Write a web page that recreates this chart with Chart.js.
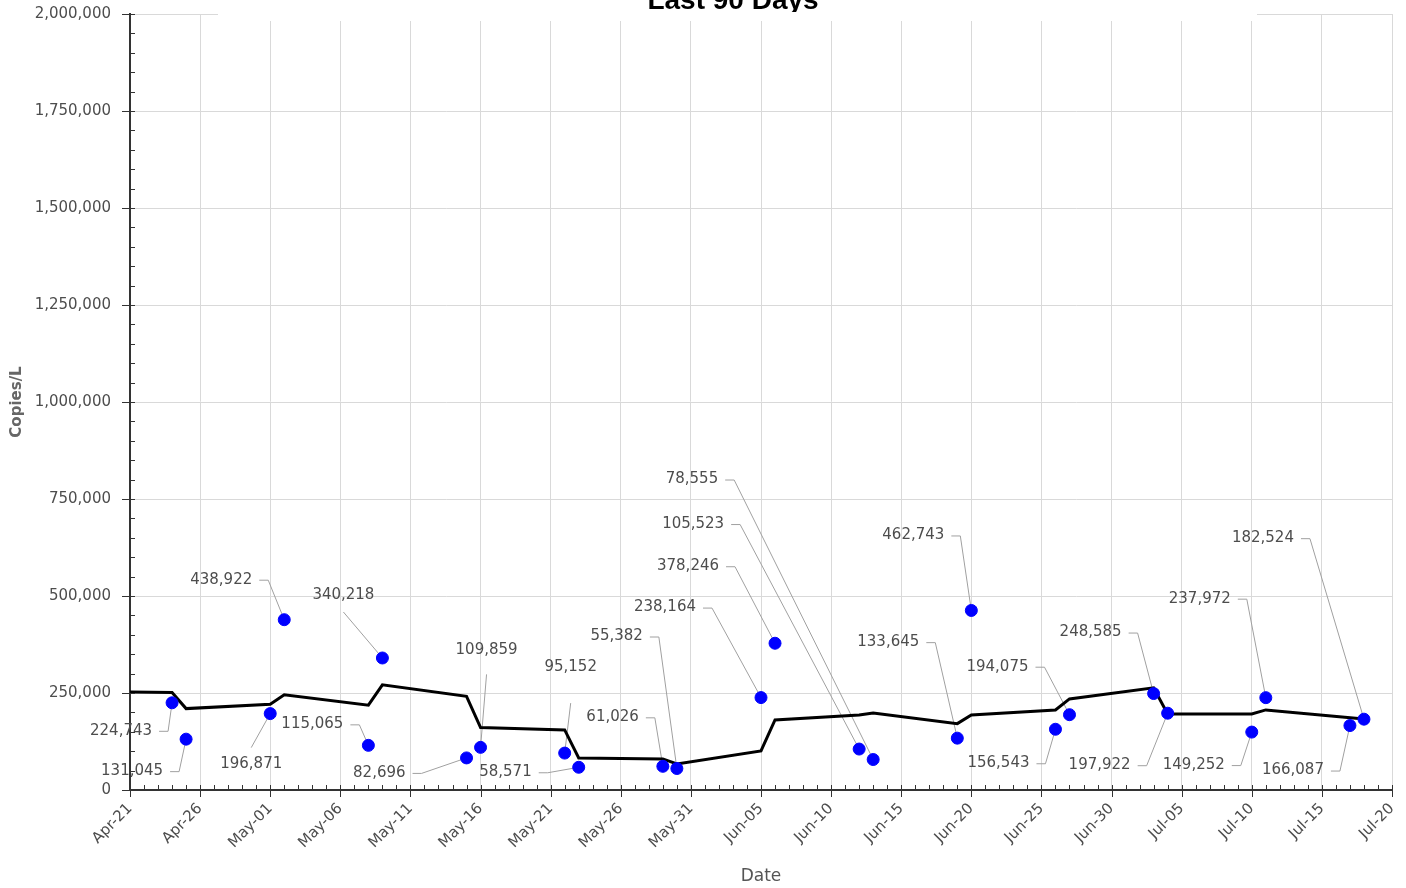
<!DOCTYPE html>
<html>
<head>
<meta charset="utf-8">
<script src="https://cdn.jsdelivr.net/npm/chart.js@4/dist/chart.umd.min.js"></script>
<style>
  html, body { margin: 0; padding: 0; background: #fff; }
  #wrap { width: 1406px; height: 888px; position: relative; }
</style>
</head>
<body>
<div id="wrap"><canvas id="wwChart"></canvas></div>
<script>
// data
const startDate = '2023-04-21';
const xTickLabels = ['Apr-21', 'Apr-26', 'May-01', 'May-06', 'May-11', 'May-16', 'May-21', 'May-26',
  'May-31', 'Jun-05', 'Jun-10', 'Jun-15', 'Jun-20', 'Jun-25', 'Jun-30', 'Jul-05', 'Jul-10', 'Jul-15', 'Jul-20'];

const sampleDates = ['2023-04-24', '2023-04-25', '2023-05-01', '2023-05-02', '2023-05-08', '2023-05-09',
  '2023-05-15', '2023-05-16', '2023-05-22', '2023-05-23', '2023-05-29', '2023-05-30', '2023-06-05',
  '2023-06-06', '2023-06-12', '2023-06-13', '2023-06-19', '2023-06-20', '2023-06-26', '2023-06-27',
  '2023-07-03', '2023-07-04', '2023-07-10', '2023-07-11', '2023-07-17', '2023-07-18'];
const copiesPerL = [224743, 131045, 196871, 438922, 115065, 340218, 82696, 109859, 95152, 58571,
  61026, 55382, 238164, 378246, 105523, 78555, 133645, 462743, 156543, 194075, 248585, 197922,
  149252, 237972, 166087, 182524];

const trendDates = ['2023-04-21', '2023-04-24', '2023-04-25', '2023-05-01', '2023-05-02', '2023-05-08',
  '2023-05-09', '2023-05-15', '2023-05-16', '2023-05-22', '2023-05-23', '2023-05-29', '2023-05-30',
  '2023-06-05', '2023-06-06', '2023-06-12', '2023-06-13', '2023-06-19', '2023-06-20', '2023-06-26',
  '2023-06-27', '2023-07-03', '2023-07-04', '2023-07-10', '2023-07-11', '2023-07-18'];
const trendValues = [252900, 251100, 209800, 221200, 245200, 218600, 271000, 241300, 160800, 154800,
  82600, 80000, 67100, 100600, 180600, 193500, 198700, 171100, 193500, 206400, 234800, 263200,
  196100, 196100, 206400, 183200];

// label placement (pixel offsets from each point): [dx, dy, align, leader start]
const labelLayout = [
  [-20, 28, 'r'], [-23, 32, 'r'], [-19, 50, 'c', -16], [-32, -40, 'r'], [-25, -21, 'r'],
  [-39, -63, 'c', 17], [-61, 15, 'r'], [6, -97, 'c', 24], [6, -86, 'c', 36], [-47, 5, 'r'],
  [-24, -49, 'r'], [-34, -132, 'r'], [-65, -90, 'r'], [-56, -77, 'r'], [-135, -225, 'r'],
  [-155, -280, 'r'], [-38, -96, 'r'], [-27, -75, 'r'], [-26, 34, 'r'], [-41, -48, 'r'],
  [-32, -61, 'r'], [-37, 52, 'r'], [-27, 33, 'r'], [-35, -99, 'r'], [-26, 45, 'r'], [-70, -181, 'r']
];

const FONT = '"DejaVu Sans", sans-serif';

function dayIndex(s) {
  return (Date.parse(s) - Date.parse(startDate)) / 86400000;
}

const pointData = sampleDates.map((d, i) => ({ x: dayIndex(d), y: copiesPerL[i] }));
const trendData = trendDates.map((d, i) => ({ x: dayIndex(d), y: trendValues[i] }));

// leader lines + value labels
const calloutPlugin = {
  id: 'callouts',
  beforeDatasetsDraw(chart) {
    const ctx = chart.ctx;
    const meta = chart.getDatasetMeta(0);
    ctx.save();
    ctx.strokeStyle = '#a0a0a0';
    ctx.lineWidth = 1;
    meta.data.forEach((pt, i) => {
      const l = labelLayout[i];
      const tx = pt.x + l[0], ty = pt.y + l[1];
      ctx.beginPath();
      if (l[2] === 'r') {
        ctx.moveTo(tx + 7, ty + 0.5);
        ctx.lineTo(tx + 16, ty + 0.5);
      } else {
        ctx.moveTo(tx, ty + l[3]);
      }
      ctx.lineTo(pt.x, pt.y);
      ctx.stroke();
    });
    ctx.restore();
  },
  afterDatasetsDraw(chart) {
    const ctx = chart.ctx;
    const meta = chart.getDatasetMeta(0);
    ctx.save();
    ctx.font = '15px ' + FONT;
    ctx.fillStyle = '#4d4d4d';
    ctx.textBaseline = 'middle';
    meta.data.forEach((pt, i) => {
      const l = labelLayout[i];
      ctx.textAlign = l[2] === 'r' ? 'right' : 'center';
      ctx.fillText(copiesPerL[i].toLocaleString('en-US'), pt.x + l[0], pt.y + l[1]);
    });
    ctx.restore();
  }
};

// minor/major tick marks and the clipped title
const axisDecor = {
  id: 'axisDecor',
  afterDraw(chart) {
    const ctx = chart.ctx;
    const ca = chart.chartArea;
    const xs = chart.scales.x, ys = chart.scales.y;
    ctx.save();
    ctx.strokeStyle = '#333';
    ctx.lineWidth = 1;
    ctx.beginPath();
    for (let v = 0; v <= 2000000; v += 50000) {
      const y = Math.round(ys.getPixelForValue(v)) + 0.5;
      ctx.moveTo(v % 250000 === 0 ? ca.left - 8 : ca.left, y);
      ctx.lineTo(ca.left + 5, y);
    }
    for (let d = 0; d <= 90; d++) {
      const x = Math.round(xs.getPixelForValue(d)) + 0.5;
      ctx.moveTo(x, ca.bottom - 5);
      ctx.lineTo(x, d % 5 === 0 ? ca.bottom + 7 : ca.bottom);
    }
    ctx.stroke();

    ctx.fillStyle = '#fff';
    ctx.fillRect(218, 0, 1039, 21);
    ctx.beginPath();
    ctx.rect(0, 0, chart.width, 12);
    ctx.clip();
    ctx.fillStyle = '#000';
    ctx.font = 'bold 28px "Liberation Sans", Arial, sans-serif';
    ctx.textAlign = 'center';
    ctx.textBaseline = 'alphabetic';
    ctx.fillText('Last 90 Days', 733, 9);
    ctx.restore();
  }
};

new Chart(document.getElementById('wwChart'), {
  type: 'scatter',
  data: {
    datasets: [{
      label: 'Copies/L',
      data: pointData,
      backgroundColor: '#0000ff',
      borderColor: '#0000ff',
      pointRadius: 6,
      pointHoverRadius: 6,
      showLine: false
    }, {
      label: 'Trend',
      data: trendData,
      showLine: true,
      borderColor: '#000',
      borderWidth: 3,
      pointRadius: 0,
      tension: 0
    }]
  },
  options: {
    responsive: true,
    maintainAspectRatio: false,
    animation: false,
    layout: { padding: { top: 14, right: 14 } },
    plugins: {
      legend: { display: false },
      tooltip: { enabled: false }
    },
    scales: {
      x: {
        type: 'linear',
        min: 0,
        max: 90,
        afterFit: s => {
          s.height = 98;
          s.paddingLeft = 0; s.paddingRight = 0; s.paddingTop = 0; s.paddingBottom = 0;
        },
        ticks: {
          stepSize: 5,
          autoSkip: false,
          minRotation: 45,
          maxRotation: 45,
          padding: 10,
          color: '#4d4d4d',
          font: { family: FONT, size: 15 },
          callback: v => xTickLabels[v / 5] || ''
        },
        grid: { color: '#d9d9d9', drawTicks: false },
        border: { color: '#333', width: 2 },
        title: {
          display: true,
          text: 'Date',
          color: '#555',
          font: { family: FONT, size: 17 },
          padding: { top: 0, bottom: 1 }
        }
      },
      y: {
        min: 0,
        max: 2000000,
        afterFit: s => {
          s.width = 130;
          s.paddingLeft = 0; s.paddingRight = 0; s.paddingTop = 0; s.paddingBottom = 0;
        },
        ticks: {
          stepSize: 250000,
          padding: 19,
          color: '#4d4d4d',
          font: { family: FONT, size: 15 },
          callback: v => v.toLocaleString('en-US')
        },
        grid: { color: '#d9d9d9', drawTicks: false },
        border: { color: '#333', width: 2 },
        title: {
          display: true,
          text: 'Copies/L',
          color: '#666',
          font: { family: FONT, size: 15, weight: 'bold' },
          padding: { top: 8, bottom: 0 }
        }
      }
    }
  },
  plugins: [calloutPlugin, axisDecor]
});
</script>
</body>
</html>
